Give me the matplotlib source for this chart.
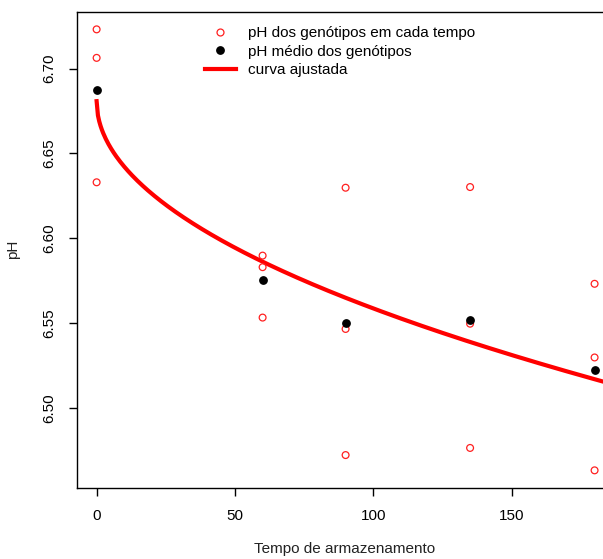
import matplotlib
matplotlib.use("Agg")
import matplotlib.pyplot as plt
import numpy as np
from matplotlib.lines import Line2D

plt.rcParams['font.family'] = ['Liberation Sans', 'DejaVu Sans']

# Data
tempos = [0, 60, 90, 135, 180]
ph_genotipos = [
    [6.7231, 6.7063, 6.6330],   # t = 0
    [6.5898, 6.5830, 6.5533],   # t = 60
    [6.6298, 6.5466, 6.4723],   # t = 90
    [6.6302, 6.5497, 6.4765],   # t = 135
    [6.5732, 6.5298, 6.4633],   # t = 180
]
ph_medio = [6.6876, 6.5756, 6.5499, 6.5521, 6.5223]
# fitted curve: pH = a + b * sqrt(t)
coef_a = 6.6808
coef_b = -0.01221
xticks = [0, 50, 100, 150]
yticks = [6.50, 6.55, 6.60, 6.65, 6.70]

W, H = 603, 559
fig = plt.figure(figsize=(W / 100, H / 100), dpi=100)
left, right, top, bottom = 76.7, 614.5, 11.7, 488.0
ax = fig.add_axes([left / W, 1 - bottom / H, (right - left) / W, (bottom - top) / H])

xs, ys = [], []
for t, vals in zip(tempos, ph_genotipos):
    for v in vals:
        xs.append(t)
        ys.append(v)
ax.scatter(xs, ys, s=24, facecolors='none', edgecolors='#ff2020', linewidths=0.9, zorder=3)
ax.scatter(tempos, ph_medio, s=28, color='black', zorder=4)

tt = np.linspace(0, 190, 400)
ax.plot(tt, coef_a + coef_b * np.sqrt(tt), color='red', lw=3, zorder=2)

ax.set_xlim(-7.2, 187.2)
ax.set_ylim(6.4529, 6.7335)
ax.set_xticks(xticks)
ax.set_xticklabels([str(x) for x in xticks])
ax.set_yticks(yticks)
ax.set_yticklabels([f"{y:.2f}" for y in yticks], rotation=90, va='center')
ax.tick_params(axis='both', direction='out', length=6, width=1, labelsize=11, colors='black')
ax.tick_params(axis='x', pad=9)
ax.tick_params(axis='y', pad=9)
for sp in ax.spines.values():
    sp.set_linewidth(1)
    sp.set_color('black')

fig.text(345 / W, 1 - 549 / H, "Tempo de armazenamento", ha='center', va='center', fontsize=11, color='#222222')
fig.text(13 / W, 1 - 249 / H, "pH", ha='center', va='center', rotation=90, fontsize=11, color='#222222')

handles = [
    Line2D([], [], ls='none', marker='o', markerfacecolor='none', markeredgecolor='#ff2020', markersize=5, markeredgewidth=0.9),
    Line2D([], [], ls='none', marker='o', color='black', markersize=5.3),
    Line2D([], [], color='red', lw=3),
]
labels = ["pH dos genótipos em cada tempo", "pH médio dos genótipos", "curva ajustada"]
fig.legend(handles, labels, loc='upper left', bbox_to_anchor=(205 / W, 1 - 26 / H),
           bbox_transform=fig.transFigure, frameon=False, fontsize=11,
           handlelength=2.0, handletextpad=0.8, labelspacing=0.3, borderpad=0, borderaxespad=0)

fig.savefig("out.png", dpi=100)
